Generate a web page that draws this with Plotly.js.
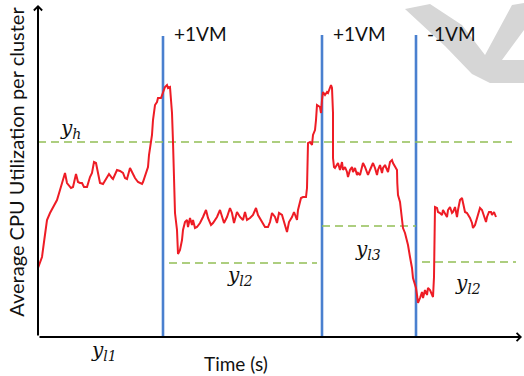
<!DOCTYPE html>
<html>
<head>
<meta charset="utf-8">
<script src="https://cdn.plot.ly/plotly-3.0.1.min.js"></script>
<style>html,body{margin:0;padding:0;background:#fff;}#chart{width:524px;height:376px;}</style>
</head>
<body>
<div id="chart"></div>
<script>
// Time (s) and average CPU utilization (arbitrary schematic units)
var timeS = [0,4,6,9,12,15,19,22,24,26,27,29,33,35,38,40,42,44,46,49,52,54,56,58,60,62,65,69,71,74,75,79,82,85,87,89,92,94,97,100,104,105,107,109,110,111,112,114,115,117,119,120,123,124,125,127,129,130,132,133,134,135,136,137,139,140,142,144,145,147,149,150,152,154,155,157,159,162,165,168,170,173,175,179,182,184,186,189,192,194,196,199,202,205,207,209,212,215,218,220,224,227,230,232,234,237,239,241,244,246,249,251,254,256,259,260,263,265,268,269,270,272,274,275,277,278,279,282,283,284,285,287,289,290,293,294,295,295,296,297,299,300,302,304,305,307,309,310,312,314,315,317,319,320,322,324,325,327,329,330,332,334,335,337,339,340,342,344,345,347,349,350,352,354,355,357,359,359.3,360,362,364,365,367,369,370,372,374,375,376,378,379,380,382,384,385,387,389,390,392,394,395,396,397,399,400,402,404,405,407,409,410,412,414,415,417,419,420,422,424,425,427,429,432,434,435,437,439,440,442,444,446,448,449,451,453,454,456,458];
var cpuUtil = [69,80,95,117,124,129,137,147,155,160,164,154,149,150,163,155,154,154,150,150,160,164,175,174,162,154,153,159,163,159,158,167,166,164,159,158,169,165,159,155,153,155,162,167,170,182,190,202,217,232,235,239,239,242,244,250,252,249,250,234,224,195,167,124,107,83,87,97,107,115,117,110,119,112,117,109,110,114,120,127,119,112,114,120,127,120,114,120,129,124,114,125,120,117,125,117,119,122,129,122,115,110,110,115,124,120,114,124,122,114,105,115,120,125,117,127,139,140,140,149,194,195,192,202,207,217,232,230,224,237,245,242,245,244,252,249,224,179,170,169,172,174,167,175,167,170,165,160,167,170,165,169,162,164,162,169,174,170,165,162,167,172,174,169,162,167,172,164,169,172,167,165,175,177,174,170,167,154,142,135,120,109,104,97,92,80,69,59,56,49,42,34,39,45,39,47,42,49,47,42,40,60,130,129,125,124,122,127,124,120,127,130,124,125,130,120,127,137,139,135,125,124,119,114,109,112,119,124,129,127,120,115,120,125,125,122,125,120];

// VM scaling events
var vmTime = [125, 284, 378];
var vmTop = [301, 302, 302];
var vmLabels = ['+1VM', '+1VM', '-1VM'];

// Threshold levels (dashed)
var thrLevel = [195, 74, 111, 75];
var thrStart = [0, 131, 284, 384];
var thrEnd = [474, 279, 378, 478];

// Threshold labels
var lblText = ['<i>y</i><sub><i>h</i></sub>', '<i>y</i><sub><i>l2</i></sub>', '<i>y</i><sub><i>l3</i></sub>', '<i>y</i><sub><i>l2</i></sub>'];
var lblT = [32, 202, 330, 430];
var lblU = [208, 61, 87, 53];

// Watermark outline (paper coords)
var wmX = [0.7551,0.8066,0.8724,0.9198,0.9753,1.0,1.0,0.9547,1.0,1.0,0.9300,0.8930,0.8374];
var wmY = [0.9733,0.9881,0.9258,0.8368,0.9852,0.9911,0.9110,0.8220,0.8220,0.7537,0.7537,0.7804,0.8635];

var traces = [];
for (var i = 0; i < vmTime.length; i++) {
  traces.push({x:[vmTime[i], vmTime[i]], y:[0, vmTop[i]], mode:'lines', line:{color:'#4a80cf', width:2.6}, hoverinfo:'skip'});
}
for (var j = 0; j < thrLevel.length; j++) {
  traces.push({x:[thrStart[j], thrEnd[j]], y:[thrLevel[j], thrLevel[j]], mode:'lines', line:{color:'#93bf55', width:1.6, dash:'8px,5px'}, hoverinfo:'skip'});
}
traces.push({x:timeS, y:cpuUtil, mode:'lines', line:{color:'#ee1c25', width:2}, hoverinfo:'skip'});

var serifFont = {family:'DejaVu Serif', size:20, color:'#111', style:'italic'};
var sansFont = {family:'Lato', size:19, color:'#111'};

var ann = [];
for (var k = 0; k < lblText.length; k++) {
  ann.push({x:lblT[k], y:lblU[k], xref:'x', yref:'y', xanchor:'center', yanchor:'middle', text:lblText[k], showarrow:false, font:serifFont});
}
ann.push({x:66, y:-0.0415, xref:'x', yref:'paper', xanchor:'center', yanchor:'middle', text:'<i>y</i><sub><i>l1</i></sub>', showarrow:false, font:serifFont});
for (var m = 0; m < vmTime.length; m++) {
  ann.push({x:vmTime[m] + 9, y:304, xref:'x', yref:'y', showarrow:false, xanchor:'left', yanchor:'middle', text:vmLabels[m], font:sansFont});
}
ann.push({x:198, y:-0.080, xref:'x', yref:'paper', xanchor:'center', yanchor:'middle', text:'Time (s)', showarrow:false, font:{family:'Lato', size:19, color:'#111'}});
ann.push({x:-0.0453, y:0.52, xref:'paper', yref:'paper', xanchor:'center', yanchor:'middle', text:'Average CPU Utilization per cluster', textangle:-90, showarrow:false, font:{family:'Lato', size:20, color:'#111'}});
// axis arrows
ann.push({x:0, y:0.985, xref:'paper', yref:'paper', ax:0, ay:332, axref:'pixel', ayref:'pixel', text:'', showarrow:true, arrowhead:4, arrowsize:0.8, arrowwidth:2, arrowcolor:'#000'});
ann.push({x:0.9959, y:0, xref:'paper', yref:'paper', ax:-484, ay:0, axref:'pixel', ayref:'pixel', text:'', showarrow:true, arrowhead:4, arrowsize:0.8, arrowwidth:2, arrowcolor:'#000'});

var wmPath = 'M' + wmX.map(function(v, i){ return v + ',' + wmY[i]; }).join('L') + 'Z';

var layout = {
  width:524, height:376,
  margin:{l:38, r:0, t:0, b:39, pad:0},
  paper_bgcolor:'#fff', plot_bgcolor:'rgba(0,0,0,0)',
  showlegend:false,
  xaxis:{range:[0,486], visible:false, fixedrange:true},
  yaxis:{range:[0,337], visible:false, fixedrange:true},
  annotations:ann,
  shapes:[{type:'path', xref:'paper', yref:'paper', path:wmPath, fillcolor:'#d6d6d6', line:{width:0}, layer:'below'}]
};

Plotly.newPlot('chart', traces, layout, {staticPlot:true, displayModeBar:false});
</script>
</body>
</html>
